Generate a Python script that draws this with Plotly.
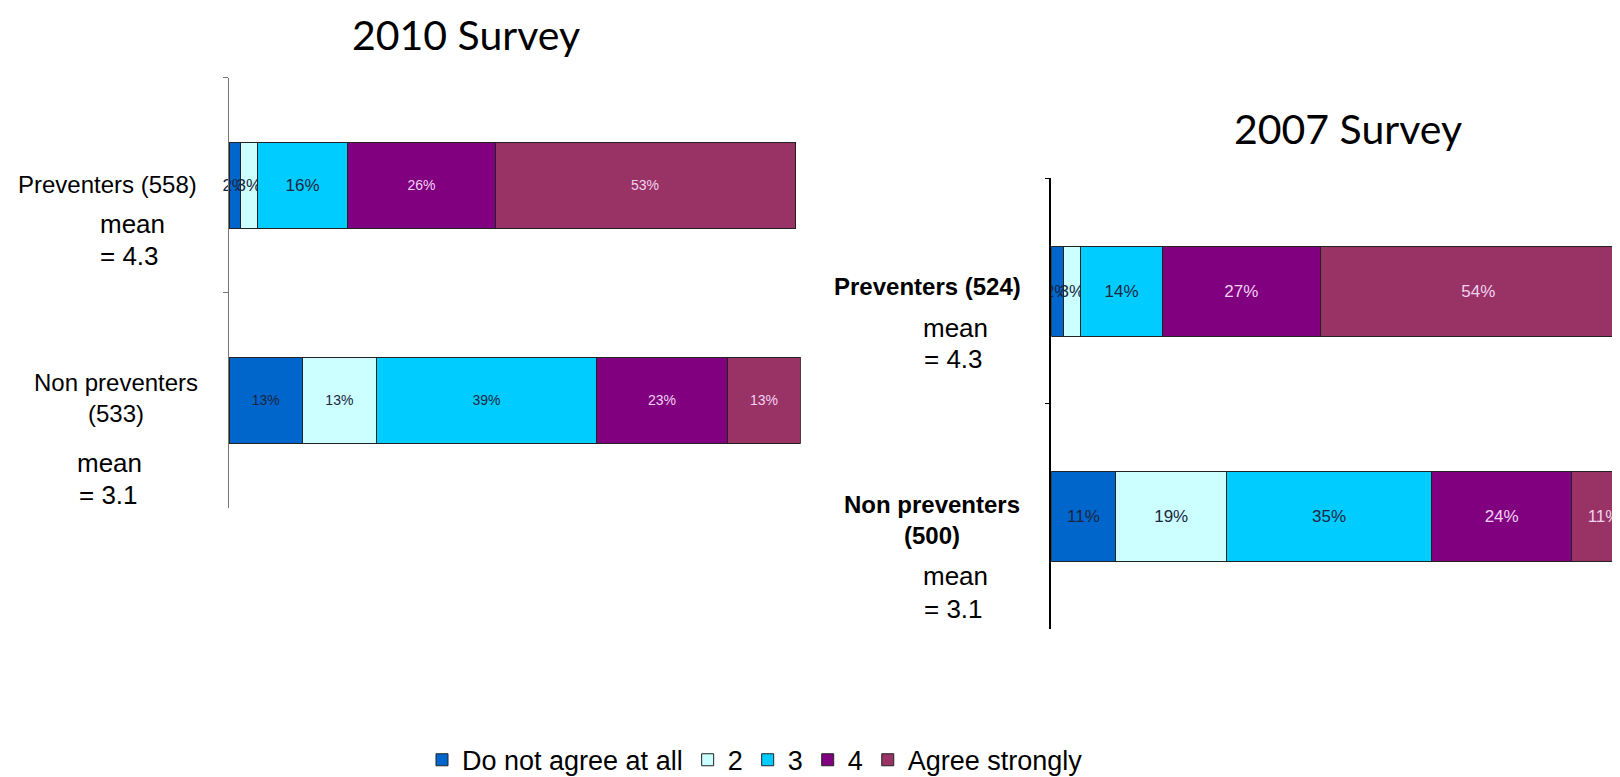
import plotly.graph_objects as go

# answer levels and colours
levels = ["Do not agree at all", "2", "3", "4", "Agree strongly"]
colors = ["#0066CC", "#CCFFFF", "#00CCFF", "#800080", "#993366"]
text_colors = ["#1b2540", "#1b2540", "#1b2540", "#f2d2f0", "#f2d2f0"]

groups = ["Preventers", "Non preventers"]

# 2010 survey
pct_2010 = [[2, 3, 16, 26, 53], [13, 13, 39, 23, 13]]
n_2010 = [558, 533]
mean_2010 = [4.3, 3.1]

# 2007 survey
pct_2007 = [[2, 3, 14, 27, 54], [11, 19, 35, 24, 11]]
n_2007 = [524, 500]
mean_2007 = [4.3, 3.1]

W, H = 1620, 777


def px(x):
    return x / W


def py(y):
    return 1 - y / H


fig = go.Figure()

for i, level in enumerate(levels):
    # the small preventer segments carry slightly larger labels in the original
    size_2010 = [17, 14] if i < 3 else [14, 14]
    fig.add_trace(go.Bar(
        x=[row[i] for row in pct_2010],
        y=groups,
        orientation="h",
        name=level,
        width=0.40,
        marker=dict(color=colors[i], line=dict(color="#222", width=1)),
        texttemplate="%{x}%",
        textposition="inside",
        insidetextanchor="middle",
        textangle=0,
        constraintext="none",
        cliponaxis=False,
        textfont=dict(family="Liberation Sans", size=size_2010, color=text_colors[i]),
        xaxis="x", yaxis="y",
        showlegend=True,
    ))
    fig.add_trace(go.Bar(
        x=[row[i] for row in pct_2007],
        y=groups,
        orientation="h",
        name=level,
        width=0.40,
        marker=dict(color=colors[i], line=dict(color="#222", width=1)),
        texttemplate="%{x}%",
        textposition="inside",
        insidetextanchor="middle",
        textangle=0,
        constraintext="none",
        textfont=dict(family="Liberation Sans", size=17, color=text_colors[i]),
        xaxis="x2", yaxis="y2",
        showlegend=False,
    ))

label_font = dict(family="Liberation Sans", size=24, color="black")
bold_font = dict(family="Liberation Sans", size=24, color="black", weight="bold")
mean_font = dict(family="Liberation Sans", size=26, color="black")
title_font = dict(family="Lato", size=41, color="black")

ann = [
    dict(text="2010 Survey", x=px(458), y=py(27), font=title_font),
    dict(text="2007 Survey", x=px(1340), y=py(123), font=title_font),
    # 2010 labels
    dict(text=f"{groups[0]} ({n_2010[0]})", x=px(191), y=py(180), xanchor="right", font=label_font),
    dict(text="mean", x=px(124), y=py(220), font=mean_font),
    dict(text=f"= {mean_2010[0]}", x=px(121), y=py(252), font=mean_font),
    dict(text=f"{groups[1]}<br>({n_2010[1]})", x=px(108), y=py(397), font=label_font),
    dict(text="mean", x=px(102), y=py(463), font=mean_font),
    dict(text=f"= {mean_2010[1]}", x=px(100), y=py(495), font=mean_font),
    # 2007 labels
    dict(text=f"{groups[0]} ({n_2007[0]})", x=px(1015), y=py(283), xanchor="right", font=bold_font),
    dict(text="mean", x=px(948), y=py(325), font=mean_font),
    dict(text=f"= {mean_2007[0]}", x=px(945), y=py(357), font=mean_font),
    dict(text=f"{groups[1]}<br>({n_2007[1]})", x=px(924), y=py(521), font=bold_font),
    dict(text="mean", x=px(948), y=py(578), font=mean_font),
    dict(text=f"= {mean_2007[1]}", x=px(945), y=py(611), font=mean_font),
]
for a in ann:
    a.setdefault("xanchor", "center")
    a.update(xref="paper", yref="paper", yanchor="middle", showarrow=False)

axis_common = dict(
    type="category", autorange="reversed", showticklabels=False,
    showline=True, ticks="outside", tickson="boundaries", ticklen=5,
    showgrid=False, zeroline=False,
)

fig.update_layout(
    width=W, height=H,
    margin=dict(l=0, r=0, t=0, b=0),
    paper_bgcolor="white", plot_bgcolor="white",
    barmode="stack",
    annotations=ann,
    xaxis=dict(domain=[px(221), px(792.7)], range=[0, 101], visible=False),
    yaxis=dict(domain=[py(508), py(71)], anchor="x", linecolor="#777", tickcolor="#777", linewidth=1, **axis_common),
    xaxis2=dict(domain=[px(1043.3), 1.0], range=[0, 98.6], visible=False, anchor="y2"),
    yaxis2=dict(domain=[py(631.7), py(173.3)], anchor="x2", linecolor="black", tickcolor="black", linewidth=1.5, **axis_common),
    legend=dict(
        orientation="h", x=px(414), y=py(765), xanchor="left", yanchor="middle",
        font=dict(family="Liberation Sans", size=27, color="black"),
        itemwidth=30, traceorder="normal",
    ),
)

fig.write_html("out.html")
